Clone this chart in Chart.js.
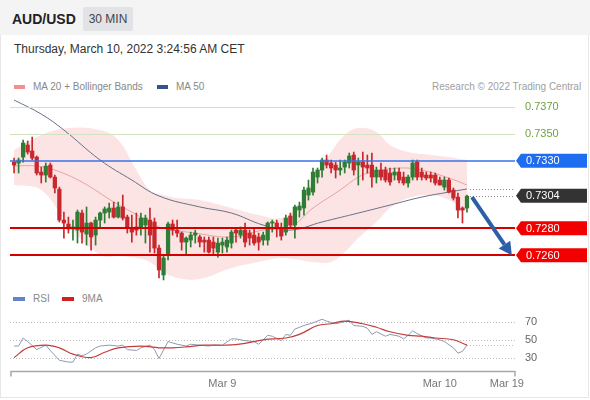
<!DOCTYPE html>
<html>
<head>
<meta charset="utf-8">
<script src="https://cdn.jsdelivr.net/npm/chart.js@4.4.0/dist/chart.umd.min.js"></script>
<style>
body { margin:0; width:590px; height:400px; background:#fff; font-family:"Liberation Sans", Arial, sans-serif; position:relative; overflow:hidden; }
#head { position:absolute; left:0; top:0; width:590px; height:35px; background:#f4f4f4; }
#sym { position:absolute; left:12px; top:11px; font-weight:bold; font-size:14px; color:#222; }
#tf { position:absolute; left:83px; top:7px; width:50px; height:24px; line-height:24px; text-align:center; background:#e1e3e6; font-size:12px; color:#444; border-radius:2px; }
#card { position:absolute; left:0; top:35px; width:587px; height:362px; border:1px solid #e6e6e6; border-top:none; }
#date { position:absolute; left:14px; top:42px; font-size:12px; color:#333; }
.leg { position:absolute; font-size:10px; color:#888; }
.sw { position:absolute; width:11px; height:4px; }
canvas { position:absolute; left:0; }
</style>
</head>
<body>
<div id="head"><div id="sym">AUD/USD</div><div id="tf">30 MIN</div></div>
<div id="card"></div>
<div id="date">Thursday, March 10, 2022 3:24:56 AM CET</div>

<div class="sw" style="left:14px;top:85px;background:#f09090"></div>
<div class="leg" style="left:33px;top:81px">MA 20 + Bollinger Bands</div>
<div class="sw" style="left:157px;top:85px;background:#34558b"></div>
<div class="leg" style="left:176px;top:81px">MA 50</div>
<div class="leg" style="left:432px;top:81px;color:#a0a0a0">Research © 2022 Trading Central</div>

<div class="sw" style="left:13px;top:297px;width:12px;background:#6384cc"></div>
<div class="leg" style="left:33px;top:293px">RSI</div>
<div class="sw" style="left:62px;top:297px;width:12px;background:#d21f1f"></div>
<div class="leg" style="left:82px;top:293px">9MA</div>

<canvas id="price" width="590" height="200" style="top:90px"></canvas>
<canvas id="rsi" width="590" height="110" style="top:290px"></canvas>

<script>
// candles, one per 30 min
var opens = [
  .7329, .73283, .73327, .73416, .73372, .73327, .73216, .73194, .73268, .73179,
  .7309, .72861, .72832, .72795, .72787, .72913, .72757, .72839, .7275, .72861,
  .72913, .7292, .7295, .72883, .72958, .72883, .72802, .7281, .7281, .72824,
  .72861, .72847, .72654, .72455, .72602, .72832, .72787, .72765, .72698, .72713,
  .7275, .72736, .72713, .72713, .72698, .72624, .72676, .72662, .72691, .72787,
  .7275, .72787, .72765, .7275, .72736, .72713, .72713, .72839, .72839, .72802,
  .72772, .72891, .72824, .72935, .7295, .73046, .73068, .73179, .73231, .73305,
  .73283, .73268, .73231, .73253, .73283, .73342, .73268, .7329, .73268, .73268,
  .73179, .73231, .73231, .73209, .73194, .73216, .73179, .73135, .73179, .7329,
  .73216, .73194, .73194, .73194, .73157, .73105, .73157, .73083, .73031, .7295,
  .7295];
var highs = [
  .7332, .7332, .73453, .73446, .73475, .73335, .73253, .73283, .73283, .73194,
  .73105, .7292, .72883, .72861, .72935, .72935, .72958, .72847, .72883, .7292,
  .72958, .72987, .72994, .72994, .73046, .72898, .72898, .72913, .72913, .72898,
  .7295, .72876, .72676, .72602, .72847, .72861, .72861, .72772, .72736, .72772,
  .72787, .7275, .72736, .72736, .72736, .72728, .72728, .72736, .72787, .72802,
  .7281, .72839, .72787, .72802, .72765, .72772, .72847, .72861, .72861, .72839,
  .72898, .72913, .72972, .72994, .73105, .73157, .73246, .73246, .7332, .73342,
  .73305, .7329, .73305, .73305, .73357, .73364, .7332, .73364, .73342, .73357,
  .73253, .73283, .73253, .73246, .73246, .73246, .73216, .73194, .73305, .73305,
  .73246, .73216, .73216, .73209, .73179, .73179, .73172, .73098, .73061, .72958,
  .73046];
var lows = [
  .73209, .73209, .7329, .73349, .73305, .73194, .73135, .73142, .73172, .73061,
  .72847, .72728, .72765, .72713, .72691, .72691, .72676, .72639, .72676, .7281,
  .72839, .72876, .72876, .72876, .72861, .72765, .72698, .7275, .7275, .72691,
  .72624, .72617, .72433, .72418, .72566, .7275, .72736, .72639, .72602, .72662,
  .72691, .72662, .72624, .72617, .72602, .72587, .72617, .72624, .72654, .72698,
  .72728, .72662, .72676, .72676, .72639, .72676, .72676, .72772, .72736, .72713,
  .7275, .72802, .72728, .72883, .72898, .73009, .73046, .73135, .73179, .73246,
  .73209, .73172, .73194, .73209, .73246, .73194, .7312, .73157, .73209, .73105,
  .73135, .73157, .73142, .7312, .73157, .73135, .7312, .73105, .73157, .73157,
  .73157, .73157, .73142, .7312, .7312, .73083, .73061, .73009, .72876, .72839,
  .7292];
var closes = [
  .73268, .73305, .73431, .73364, .7332, .73209, .73194, .7326, .73179, .73098,
  .72861, .72839, .72795, .7281, .7292, .72772, .72839, .72736, .72861, .72913,
  .72943, .7295, .72883, .72958, .72876, .72802, .72772, .72787, .72876, .72876,
  .7275, .72654, .72492, .7258, .72832, .72787, .72765, .72698, .72728, .7275,
  .72765, .72698, .72698, .72624, .72654, .72691, .72698, .72713, .72772, .72765,
  .72787, .72698, .72728, .72691, .72698, .7275, .72839, .72847, .7281, .72743,
  .72876, .72824, .72958, .72965, .73083, .73098, .73216, .73231, .73305, .73268,
  .73246, .73231, .73246, .7329, .73335, .73231, .7329, .73253, .73246, .73179,
  .73231, .73179, .73157, .73142, .73216, .73157, .73135, .73179, .73283, .73179,
  .73179, .73172, .73172, .73135, .7312, .73157, .73068, .73024, .72935, .72935,
  .73038];

// bollinger bands (20) and moving averages, read at some candles
var bandIdx   = [0, 6, 12, 19, 23, 27, 30, 33, 36, 41, 48, 54, 59, 63, 66, 70, 73, 76, 80, 83, 87, 92, 96, 100];
var bandUpper = [.73379, .7349, .73542, .73527, .73453, .73231, .73083, .73046, .73024, .73009, .7295, .72898, .72876,
                 .72972, .73157, .73364, .7349, .73542, .73512, .73416, .73364, .73342, .73327, .73305];
var bandLower = [.7312, .73083, .72824, .72602, .72595, .7258, .72551, .72477, .72433, .72425, .72507, .72551, .7258,
                 .72566, .72551, .72551, .72624, .72728, .72847, .7295, .73024, .73046, .73009, .7292];
var ma20Idx = [0, 5, 9, 15, 22, 28, 32, 40, 48, 55, 61, 66, 72, 76, 79, 85, 90, 96, 100];
var ma20Val = [.73261, .73261, .73231, .73142, .72995, .72883, .7281, .72765, .72736, .72787, .7281, .7295, .73083,
               .73179, .73216, .73246, .73231, .73172, .7312];
var ma50Idx = [0, 6, 11, 19, 26, 32, 41, 48, 55, 61, 68, 76, 83, 90, 96, 100];
var ma50Val = [.73749, .73645, .73527, .73305, .73157, .73039, .72958, .72913, .72824, .72787, .72847, .72913, .72972,
               .73031, .73068, .73091];

// RSI panel
var rsiIdx = [0, 1, 2, 3, 5, 7, 8, 10, 12, 13, 14, 15, 16, 18, 19, 21, 23, 24, 25, 27,
              28, 30, 31, 32, 34, 36, 38, 39, 41, 43, 44, 46, 48, 49, 51, 53, 54, 56, 57, 59,
              60, 61, 62, 64, 66, 68, 69, 71, 72, 74, 75, 77, 78, 79, 80, 82, 83, 85, 86, 87,
              88, 89, 91, 92, 94, 95, 97, 98, 99, 100];
var rsiVal = [43, 43, 52, 48, 39, 44, 38, 27, 25, 25, 34, 32, 34, 41, 43, 44, 43, 44, 39, 38,
              41, 44, 39, 29, 48, 45, 43, 45, 44, 43, 44, 44, 51, 51, 49, 48, 45, 55, 54, 49,
              56, 55, 62, 66, 69, 73, 71, 68, 69, 72, 66, 65, 63, 56, 59, 54, 56, 54, 51, 55,
              60, 57, 52, 52, 50, 48, 41, 35, 37, 44];
var rsiMaIdx = [0, 3, 7, 10, 13, 17, 20, 23, 28, 32, 35, 38, 42, 47, 51, 55, 60, 63, 67, 70, 73, 77, 80, 83, 87, 90, 93, 97, 100];
var rsiMaVal = [30, 41, 44, 41, 34, 30, 36, 41, 43, 41, 41, 42, 44, 44, 46, 50, 52, 56, 66, 68, 71, 68, 64, 59, 55, 54, 52, 50, 44];
var rsiLevels = [70, 50, 30];

// key levels and labels
var levelPrices = [0.7370, 0.7350, 0.7330, 0.7280, 0.7260];
var levelKinds = ['res', 'res', 'pivot', 'sup', 'sup'];
var lastPrice = 0.7304;
var arrowFrom = [101.1, 0.7303];
var arrowTo = [109.9, 0.7260];
var dateTicks = [46, 94, 108.8];
var dateLabels = ['Mar 9', 'Mar 10', 'Mar 19'];

var GREEN = '#2f7d34', RED = '#c8282d';
var FONT = '"Liberation Sans", Arial, sans-serif';

function pts(idx, vals) {
  return idx.map(function(x, i) { return { x: x, y: vals[i] }; });
}

var bodies = [], wicks = [], colors = [];
for (var i = 0; i < opens.length; i++) {
  bodies.push({ x: i, y: [opens[i], closes[i]] });
  wicks.push({ x: i, y: [lows[i], highs[i]] });
  colors.push(closes[i] >= opens[i] ? GREEN : RED);
}

function tag(ctx, x, y, bg, text) {
  ctx.fillStyle = bg;
  ctx.beginPath();
  ctx.moveTo(x, y);
  ctx.lineTo(x + 5, y - 7);
  ctx.lineTo(587, y - 7);
  ctx.lineTo(587, y + 7);
  ctx.lineTo(x + 5, y + 7);
  ctx.closePath();
  ctx.fill();
  ctx.fillStyle = '#fff';
  ctx.fillText(text, x + 10, y + 0.5);
}

var levelsPlugin = {
  id: 'levels',
  afterDatasetsDraw: function(chart) {
    var ctx = chart.ctx, xs = chart.scales.x, ys = chart.scales.y, a = chart.chartArea;
    ctx.save();
    ctx.font = '11px ' + FONT;
    ctx.textBaseline = 'middle';
    // dotted lines from the last candle
    var xl = xs.getPixelForValue(opens.length - 1) + 3;
    ctx.strokeStyle = '#888';
    ctx.lineWidth = 1;
    ctx.setLineDash([1, 2]);
    [ma50Val[ma50Val.length - 1], lastPrice].forEach(function(p) {
      var y = Math.round(ys.getPixelForValue(p)) + 0.5;
      ctx.beginPath(); ctx.moveTo(xl, y); ctx.lineTo(a.right, y); ctx.stroke();
    });
    ctx.setLineDash([]);
    for (var i = 0; i < levelPrices.length; i++) {
      var k = levelKinds[i];
      var y = ys.getPixelForValue(levelPrices[i]);
      ctx.lineWidth = k === 'sup' ? 2 : (k === 'pivot' ? 1.3 : 1);
      ctx.strokeStyle = k === 'res' ? '#d3e3c1' : (k === 'pivot' ? '#3a72e6' : '#d40000');
      var yy = k === 'res' ? Math.round(y) + 0.5 : Math.round(y);
      ctx.beginPath(); ctx.moveTo(a.left, yy); ctx.lineTo(a.right, yy); ctx.stroke();
      var txt = levelPrices[i].toFixed(4);
      if (k === 'res') {
        ctx.fillStyle = '#6ea33f';
        ctx.fillText(txt, a.right + 10, y + 0.5);
      } else {
        tag(ctx, a.right + 1, y, k === 'pivot' ? '#1e6cf0' : '#f20000', txt);
      }
    }
    tag(ctx, a.right + 1, ys.getPixelForValue(lastPrice), '#333', lastPrice.toFixed(4));
    // arrow
    var x1 = xs.getPixelForValue(arrowFrom[0]), y1 = ys.getPixelForValue(arrowFrom[1]);
    var x2 = xs.getPixelForValue(arrowTo[0]), y2 = ys.getPixelForValue(arrowTo[1]);
    var ang = Math.atan2(y2 - y1, x2 - x1), hl = 13, hw = 7;
    var bx = x2 - hl * Math.cos(ang), by = y2 - hl * Math.sin(ang);
    ctx.strokeStyle = '#2d5fa6';
    ctx.fillStyle = '#2d5fa6';
    ctx.lineWidth = 4;
    ctx.beginPath(); ctx.moveTo(x1, y1); ctx.lineTo(bx, by); ctx.stroke();
    ctx.beginPath();
    ctx.moveTo(x2, y2);
    ctx.lineTo(bx + hw * Math.sin(ang), by - hw * Math.cos(ang));
    ctx.lineTo(bx - hw * Math.sin(ang), by + hw * Math.cos(ang));
    ctx.closePath();
    ctx.fill();
    ctx.restore();
  }
};

new Chart(document.getElementById('price'), {
  type: 'bar',
  data: {
    datasets: [
      { type: 'bar', data: bodies, backgroundColor: colors, barThickness: 3.6, grouped: false, minBarLength: 1, order: 1 },
      { type: 'bar', data: wicks, backgroundColor: colors, barThickness: 1, grouped: false, order: 2 },
      { type: 'line', data: pts(ma20Idx, ma20Val), borderColor: '#e9a2a2', borderWidth: 1, pointRadius: 0, tension: 0.4, order: 3 },
      { type: 'line', data: pts(ma50Idx, ma50Val), borderColor: '#66718a', borderWidth: 1, pointRadius: 0, tension: 0.4, order: 4 },
      { type: 'line', data: pts(bandIdx, bandUpper), borderColor: 'rgba(0,0,0,0)', pointRadius: 0, tension: 0.4, fill: false, order: 6 },
      { type: 'line', data: pts(bandIdx, bandLower), borderColor: 'rgba(0,0,0,0)', pointRadius: 0, tension: 0.4,
        fill: '-1', backgroundColor: 'rgba(240,120,120,0.2)', order: 5 }
    ]
  },
  options: {
    responsive: false,
    animation: false,
    devicePixelRatio: 1,
    layout: { padding: { top: 5, bottom: 8, left: 10, right: 75 } },
    plugins: { legend: { display: false }, tooltip: { enabled: false } },
    scales: {
      x: { type: 'linear', min: -0.9, max: 110.6, offset: false, display: false },
      y: { type: 'linear', min: 0.72403, max: 0.73786, display: false }
    }
  },
  plugins: [levelsPlugin]
});

var rsiPlugin = {
  id: 'rsiAxes',
  beforeDatasetsDraw: function(chart) {
    var ctx = chart.ctx, xs = chart.scales.x, ys = chart.scales.y, a = chart.chartArea;
    ctx.save();
    ctx.strokeStyle = '#bdbdbd';
    ctx.lineWidth = 1;
    ctx.setLineDash([1, 2]);
    rsiLevels.forEach(function(v) {
      var y = Math.round(ys.getPixelForValue(v)) + 0.5;
      ctx.beginPath(); ctx.moveTo(a.left, y); ctx.lineTo(a.right, y); ctx.stroke();
    });
    var yl = Math.round(ys.getPixelForValue(rsiVal[rsiVal.length - 1])) + 0.5;
    ctx.beginPath(); ctx.moveTo(xs.getPixelForValue(rsiIdx[rsiIdx.length - 1]), yl); ctx.lineTo(a.right, yl); ctx.stroke();
    ctx.setLineDash([]);
    ctx.font = '11px ' + FONT;
    ctx.fillStyle = '#666';
    ctx.textBaseline = 'middle';
    rsiLevels.forEach(function(v) { ctx.fillText(String(v), a.right + 10, ys.getPixelForValue(v) + 0.5); });
    // axis bracket
    var yb = a.bottom + 0.5;
    ctx.strokeStyle = '#a8a8a8';
    ctx.lineWidth = 1.5;
    ctx.beginPath();
    ctx.moveTo(a.left + 1, yb + 5); ctx.lineTo(a.left + 1, yb); ctx.lineTo(a.right, yb); ctx.lineTo(a.right, yb + 5);
    ctx.stroke();
    ctx.fillStyle = '#777';
    ctx.textAlign = 'center';
    for (var i = 0; i < dateTicks.length; i++) {
      ctx.fillText(dateLabels[i], xs.getPixelForValue(dateTicks[i]), a.bottom + 13);
    }
    ctx.restore();
  }
};

new Chart(document.getElementById('rsi'), {
  type: 'line',
  data: {
    datasets: [
      { data: pts(rsiMaIdx, rsiMaVal), borderColor: '#c43c3c', borderWidth: 1.2, pointRadius: 0, tension: 0.4 },
      { data: pts(rsiIdx, rsiVal), borderColor: '#8d9bb3', borderWidth: 1, pointRadius: 0, tension: 0 }
    ]
  },
  options: {
    responsive: false,
    animation: false,
    devicePixelRatio: 1,
    layout: { padding: { top: 15, bottom: 29, left: 10, right: 75 } },
    plugins: { legend: { display: false }, tooltip: { enabled: false } },
    scales: {
      x: { type: 'linear', min: -0.9, max: 110.6, display: false },
      y: { type: 'linear', min: 15, max: 89, display: false }
    }
  },
  plugins: [rsiPlugin]
});
</script>
</body>
</html>
